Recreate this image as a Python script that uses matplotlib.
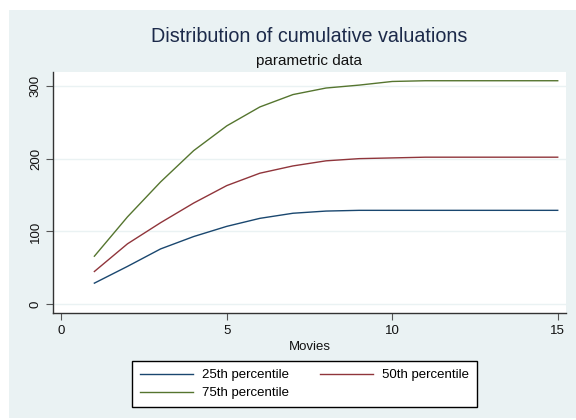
import numpy as np
import matplotlib.pyplot as plt

plt.rcParams['font.family'] = ['Liberation Sans', 'DejaVu Sans']

# Cumulative valuations by number of movies
movies = np.arange(1, 16)
p25 = [29, 52, 76, 93, 107, 118, 125, 128, 129, 129, 129, 129, 129, 129, 129]
p50 = [45, 83, 112, 139, 163, 180, 190, 197, 200, 201, 202, 202, 202, 202, 202]
p75 = [66, 120, 168, 211, 245, 271, 288, 297, 301, 306, 307, 307, 307, 307, 307]

series = [('25th percentile', p25, '#1a476f'),
          ('50th percentile', p50, '#90353b'),
          ('75th percentile', p75, '#55752f')]

bg = '#eaf2f3'
fig = plt.figure(figsize=(5.76, 4.2), dpi=100)
fig.patch.set_facecolor('white')

# graph region panel behind everything
bg_ax = fig.add_axes([9 / 576, 2 / 420, 567 / 576, 408 / 420], zorder=-1)
bg_ax.set_facecolor(bg)
bg_ax.set_xticks([])
bg_ax.set_yticks([])
for s in bg_ax.spines.values():
    s.set_visible(False)

ax = fig.add_axes([53 / 576, 1 - 313 / 420, 513 / 576, 241 / 420])
ax.set_facecolor('white')

lines = {}
for label, vals, col in series:
    ln, = ax.plot(movies, vals, color=col, lw=1.0, label=label)
    lines[label] = ln

ax.set_xlim(-0.25, 15.25)
ax.set_ylim(-12, 319)
ax.set_xticks([0, 5, 10, 15])
ax.set_yticks([0, 100, 200, 300])
ax.yaxis.grid(True, color=bg, lw=1.0)
ax.set_axisbelow(True)

for side in ['top', 'right']:
    ax.spines[side].set_visible(False)
for side in ['left', 'bottom']:
    ax.spines[side].set_color('#333333')
    ax.spines[side].set_linewidth(1.0)

ax.tick_params(axis='both', direction='out', length=5, width=0.8,
               color='#555555', labelsize=9.5, labelcolor='#111111')
ax.tick_params(axis='y', pad=3)
for t in ax.get_yticklabels():
    t.set_rotation(90)
    t.set_va('center')

ax.set_xlabel('Movies', fontsize=9.5, labelpad=3, color='#111111')

fig.text(0.537, 1 - 37 / 420, 'Distribution of cumulative valuations',
         ha='center', va='center', fontsize=14.2, color='#1c2a4a')
fig.text(0.536, 1 - 61 / 420, 'parametric data',
         ha='center', va='center', fontsize=11, color='#111111')

# row-wise legend order: 25th, 50th / 75th
order = ['25th percentile', '75th percentile', '50th percentile']
leg = fig.legend(handles=[lines[k] for k in order], loc='upper left', ncol=2,
                 bbox_to_anchor=(132 / 576, 1 - 361 / 420),
                 fontsize=9.5, handlelength=4.0, handletextpad=0.68,
                 columnspacing=2.4, borderaxespad=0, frameon=True,
                 fancybox=False, labelspacing=0.45, borderpad=0.6)
leg.get_frame().set_edgecolor('black')
leg.get_frame().set_linewidth(1.0)
leg.get_frame().set_facecolor('white')
leg.get_frame().set_alpha(1)

fig.savefig('out.png', dpi=100, facecolor=fig.get_facecolor())
